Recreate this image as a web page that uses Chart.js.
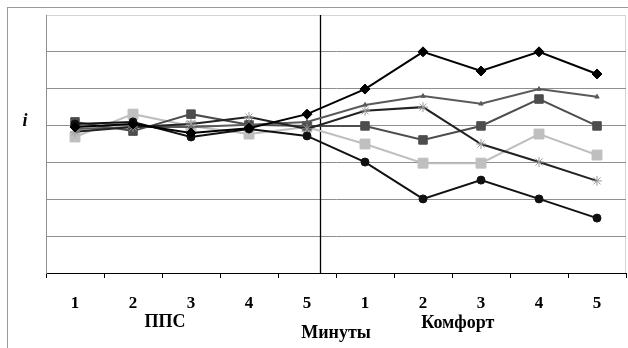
<!DOCTYPE html>
<html>
<head>
<meta charset="utf-8">
<script src="https://cdn.jsdelivr.net/npm/chart.js@4"></script>
<style>
html,body{margin:0;padding:0;background:#fff;}
#wrap{position:relative;width:628px;height:348px;overflow:hidden;}
#frame{position:absolute;left:7px;top:7px;width:700px;height:400px;border-left:1px solid #9a9a9a;border-top:1px solid #9a9a9a;box-sizing:border-box;}
canvas{position:absolute;left:0;top:0;}
</style>
</head>
<body>
<div id="wrap"><div id="frame"></div><canvas id="c" width="628" height="348"></canvas></div>
<script>
// Categories (minutes) — two groups of five
const categories = ['1','2','3','4','5','1','2','3','4','5'];
const groupLabels = ['ППС', 'Комфорт'];
const axisTitle = 'Минуты';
const yTitle = 'i';

// Series values (arbitrary units 0..7)
const seriesDiamond  = [3.96, 4.04, 3.80, 3.93, 4.31, 4.99, 6.00, 5.48, 6.00, 5.40];
const seriesGrayLine = [3.91, 3.96, 3.96, 4.02, 4.10, 4.56, 4.80, 4.59, 4.99, 4.78];
const seriesDarkSq   = [4.10, 3.85, 4.31, 4.02, 3.99, 3.99, 3.61, 3.99, 4.72, 3.99];
const seriesLightSq  = [3.69, 4.31, 3.99, 3.77, 3.96, 3.50, 2.98, 2.98, 3.77, 3.20];
const seriesCircle   = [4.04, 4.10, 3.69, 3.91, 3.72, 3.01, 2.01, 2.52, 2.01, 1.49];
const seriesStar     = [3.83, 3.96, 4.04, 4.23, 3.91, 4.40, 4.50, 3.50, 3.01, 2.50];

const yMin = 0, yMax = 7;

const serif = "'Liberation Serif','Times New Roman',serif";

const extras = {
  id: 'extras',
  beforeDatasetsDraw(chart) {
    const {ctx, chartArea: a, scales: {x}} = chart;
    ctx.save();
    const px = Math.round(x.getPixelForValue(4.22)) + 0.5;
    ctx.strokeStyle = '#000';
    ctx.lineWidth = 1.3;
    ctx.beginPath();
    ctx.moveTo(px, a.top);
    ctx.lineTo(px, a.bottom);
    ctx.stroke();
    ctx.restore();
  },
  afterDraw(chart) {
    const {ctx, chartArea: a, scales: {x}} = chart;
    ctx.save();
    ctx.fillStyle = '#000';
    ctx.textAlign = 'center';
    ctx.textBaseline = 'middle';
    ctx.font = "bold 18px " + serif;
    ctx.fillText(groupLabels[0], x.getPixelForValue(1.55), a.bottom + 49);
    ctx.fillText(groupLabels[1], x.getPixelForValue(6.6), a.bottom + 50);
    ctx.fillText(axisTitle, x.getPixelForValue(4.5), a.bottom + 60);
    ctx.font = "italic bold 18px " + serif;
    ctx.fillText(yTitle, a.left - 21, a.top + 106);
    ctx.restore();
  },
  beforeDraw(chart) {
    const {ctx, chartArea: a} = chart;
    ctx.save();
    ctx.strokeStyle = '#d4d4d4';
    ctx.lineWidth = 1;
    ctx.strokeRect(Math.round(a.left) + 0.5, Math.round(a.top) + 0.5, Math.round(a.right - a.left) - 1, Math.round(a.bottom - a.top));
    ctx.restore();
  }
};

const mk = (label, data, color, ptStyle, radius, ptColor, ptBorder, order) => ({
  label, data,
  borderColor: color,
  borderWidth: 2,
  pointStyle: ptStyle,
  pointRadius: radius,
  pointBackgroundColor: ptColor,
  pointBorderColor: ptBorder,
  pointBorderWidth: 1,
  tension: 0,
  fill: false,
  order
});

new Chart(document.getElementById('c'), {
  type: 'line',
  data: {
    labels: categories,
    datasets: [
      mk('A', seriesLightSq, '#bfbfbf', 'rect', 7, '#bfbfbf', '#bfbfbf', 6),
      mk('B', seriesDarkSq, '#4d4d4d', 'rect', 6, '#4d4d4d', '#4d4d4d', 5),
      mk('C', seriesGrayLine, '#5a5a5a', 'triangle', 2.5, '#5a5a5a', '#5a5a5a', 4),
      mk('D', seriesStar, '#222222', 'star', 5, '#999999', '#999999', 3),
      mk('E', seriesCircle, '#111111', 'circle', 4, '#111111', '#111111', 2),
      mk('F', seriesDiamond, '#000000', 'rectRot', 5, '#000000', '#000000', 1)
    ]
  },
  options: {
    responsive: false,
    animation: false,
    events: [],
    layout: { autoPadding: false, padding: { left: 0, top: 15, right: 2, bottom: 0 } },
    plugins: { legend: { display: false }, tooltip: { enabled: false } },
    scales: {
      x: {
        offset: true,
        grid: { offset: true, drawOnChartArea: false, color: '#000', tickLength: 5, tickWidth: 1 },
        border: { color: '#000', width: 1 },
        ticks: { color: '#000', font: { family: serif, size: 17, weight: 'bold' }, padding: 15, maxRotation: 0 },
        afterFit(s) { s.height = 75; s.paddingLeft = 0; s.paddingRight = 0; }
      },
      y: {
        min: yMin, max: yMax,
        ticks: { display: false, stepSize: 1 },
        grid: { color: (c) => (c.tick.value === yMax || c.tick.value === yMin) ? 'rgba(0,0,0,0)' : '#8f8f8f', drawTicks: false, lineWidth: 1 },
        border: { color: '#8f8f8f', width: 1 },
        afterFit(s) { s.width = 46; s.paddingTop = 0; s.paddingBottom = 0; }
      }
    }
  },
  plugins: [extras]
});
</script>
</body>
</html>
